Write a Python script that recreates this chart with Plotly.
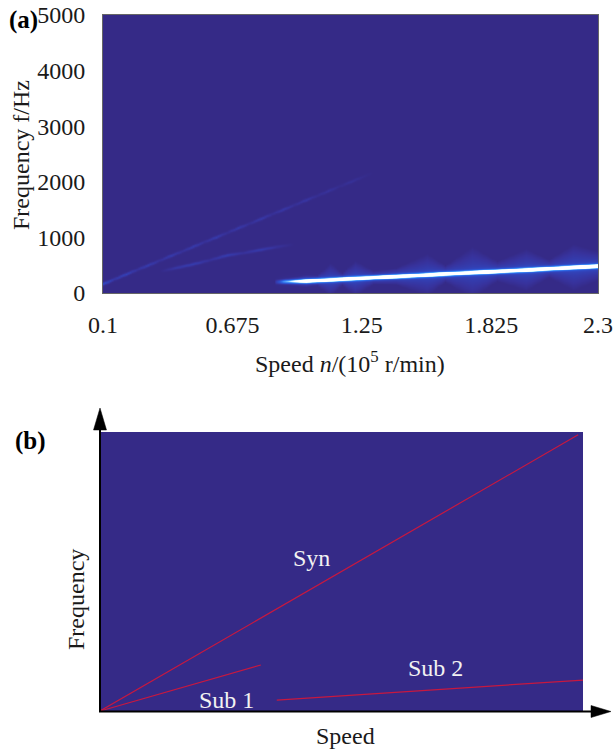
import numpy as np
import plotly.graph_objects as go

# ---------------- Panel (a): spectral ridges ----------------
# sub-synchronous (bright) ridge: speed (1e5 r/min), frequency (Hz), relative amplitude
sub_speed = [0.86, 0.90, 0.95, 1.00, 1.10, 1.20, 1.30, 1.40, 1.50, 1.60, 1.70, 1.80, 1.90, 2.00, 2.10, 2.20, 2.30]
sub_freq = [198, 205, 210, 216, 236, 258, 278, 298, 318, 340, 360, 380, 400, 420, 442, 463, 486]
sub_amp = [0.0, 0.30, 0.55, 0.95, 0.88, 0.97, 0.85, 0.97, 0.90, 1.00, 0.88, 1.00, 0.92, 1.00, 0.94, 1.00, 1.00]

# glow spread around the bright ridge (Hz)
glow_speed = [0.90, 1.00, 1.05, 1.11, 1.16, 1.22, 1.30, 1.40, 1.54, 1.62, 1.74, 1.85, 1.98, 2.08, 2.19, 2.30]
glow_width = [60, 110, 90, 300, 110, 320, 120, 150, 380, 150, 470, 180, 380, 160, 420, 260]

# synchronous (faint, streaky) ridge
syn_speed = [0.10, 0.15, 0.20, 0.25, 0.30, 0.35, 0.40, 0.45, 0.50, 0.55, 0.60, 0.65, 0.70, 0.75,
             0.80, 0.85, 0.90, 0.95, 1.00, 1.05, 1.10, 1.15, 1.20, 1.25, 1.30]
syn_freq = [165, 250, 335, 420, 500, 585, 670, 750, 835, 920, 1000, 1085, 1170, 1250,
            1335, 1420, 1500, 1585, 1670, 1750, 1835, 1920, 2000, 2085, 2170]
syn_amp = [0.20, 0.09, 0.15, 0.06, 0.12, 0.05, 0.11, 0.05, 0.11, 0.05, 0.11, 0.04, 0.10, 0.04,
           0.10, 0.04, 0.09, 0.04, 0.08, 0.03, 0.06, 0.02, 0.05, 0.02, 0.0]

# second faint ridge (lower)
half_speed = [0.35, 0.42, 0.50, 0.57, 0.65, 0.72, 0.80, 0.87, 0.95]
half_freq = [390, 450, 520, 590, 680, 720, 780, 830, 880]
half_amp = [0.0, 0.08, 0.12, 0.05, 0.12, 0.05, 0.11, 0.05, 0.0]

x_ticks = [0.1, 0.675, 1.25, 1.825, 2.3]
x_tick_text = ["0.1", "0.675", "1.25", "1.825", "2.3"]
y_ticks = [0, 1000, 2000, 3000, 4000, 5000]

# ---------------- Panel (b): schematic lines ----------------
syn_line_x = [0.0, 0.99]
syn_line_y = [0.0, 0.99]
sub1_line_x = [0.0, 0.333]
sub1_line_y = [0.0, 0.165]
sub2_line_x = [0.366, 1.0]
sub2_line_y = [0.039, 0.111]

# ---------------- build spectrum grid from ridges ----------------
grid_speed = np.round(np.arange(0.10, 2.3001, 0.01), 3)
grid_freq = np.arange(0, 5001, 5.0)
S, F = np.meshgrid(grid_speed, grid_freq)


def ridge(sp, fr, am, sigma):
    f0 = np.interp(grid_speed, sp, fr)
    a = np.interp(grid_speed, sp, am, left=0, right=0)
    return a[None, :] * np.exp(-0.5 * ((F - f0[None, :]) / sigma) ** 2), f0, a


core, f0_sub, a_sub = ridge(sub_speed, sub_freq, sub_amp, 24)
core = 1.35 * core
gw = np.interp(grid_speed, glow_speed, glow_width)
dist = np.abs(F - f0_sub[None, :])
glow = 0.18 * a_sub[None, :] * np.clip(1 - dist / gw[None, :], 0, 1) \
    + 0.25 * a_sub[None, :] * np.exp(-dist / 35)
syn_r, _, _ = ridge(syn_speed, syn_freq, syn_amp, 20)
half_r, _, _ = ridge(half_speed, half_freq, half_amp, 20)
Z = np.clip(core + glow + syn_r + half_r, 0, 1)

BG = "#352a87"
colorscale = [
    [0.0, BG], [0.06, "#37329c"], [0.18, "#3145bd"], [0.35, "#2b60e0"],
    [0.6, "#4a9cfb"], [0.82, "#c8eeff"], [1.0, "#ffffff"],
]

FONT = "Liberation Serif"
fig = go.Figure()

fig.add_trace(go.Heatmap(
    x=grid_speed, y=grid_freq, z=Z, colorscale=colorscale, zmin=0, zmax=1,
    showscale=False, zsmooth="best", xaxis="x", yaxis="y", hoverinfo="skip",
))

line_col = "#c8183f"
for xs, ys in [(syn_line_x, syn_line_y), (sub1_line_x, sub1_line_y), (sub2_line_x, sub2_line_y)]:
    fig.add_trace(go.Scatter(x=xs, y=ys, mode="lines", line=dict(color=line_col, width=1.2),
                             xaxis="x2", yaxis="y2", showlegend=False, hoverinfo="skip"))

W, H = 613, 749


def px(x):
    return x / W


def py(y):
    return 1 - y / H


tick_font = dict(family=FONT, size=24, color="#1a1a1a")
fig.update_layout(
    width=W, height=H, margin=dict(l=0, r=0, t=0, b=0, autoexpand=False),
    paper_bgcolor="white", plot_bgcolor=BG, showlegend=False,
    xaxis=dict(domain=[px(103), px(598)], range=[0.1, 2.3], tickvals=x_ticks, ticktext=x_tick_text,
               tickfont=tick_font, ticks="", showline=True, linecolor="#666", linewidth=1, mirror=True,
               showgrid=False, zeroline=False, anchor="y", ticklabelstandoff=10, automargin=False),
    yaxis=dict(domain=[py(293), py(15)], range=[0, 5000], tickvals=y_ticks, tickfont=tick_font,
               ticks="", showline=True, linecolor="#666", linewidth=1, mirror=True,
               showgrid=False, zeroline=False, anchor="x", ticklabelstandoff=12, automargin=False),
    xaxis2=dict(domain=[px(100), px(583)], range=[0, 1], visible=False, anchor="y2", automargin=False),
    yaxis2=dict(domain=[py(711), py(432)], range=[0, 1], visible=False, anchor="x2", automargin=False),
)

big = dict(family=FONT, size=24, color="#1a1a1a")
ann = []
ann.append(dict(text="<b>(a)</b>", x=px(7), y=py(20), xref="paper", yref="paper", xanchor="left",
                yanchor="middle", showarrow=False, font=dict(family=FONT, size=25, color="black")))
ann.append(dict(text="<b>(b)</b>", x=px(13), y=py(441), xref="paper", yref="paper", xanchor="left",
                yanchor="middle", showarrow=False, font=dict(family=FONT, size=25, color="black")))
ann.append(dict(text="Frequency f/Hz", x=px(21), y=py(155), xref="paper", yref="paper", textangle=-90,
                xanchor="center", yanchor="middle", showarrow=False, font=big))
ann.append(dict(text="Speed <i>n</i>/(10<sup>5</sup> r/min)", x=px(350), y=py(362), xref="paper",
                yref="paper", xanchor="center", yanchor="middle", showarrow=False, font=big))
# panel (b) texts
ann.append(dict(text="Frequency", x=px(76), y=py(600), xref="paper", yref="paper", textangle=-90,
                xanchor="center", yanchor="middle", showarrow=False, font=big))
ann.append(dict(text="Speed", x=px(345), y=py(736), xref="paper", yref="paper",
                xanchor="center", yanchor="middle", showarrow=False, font=big))
for t, x, y in [("Syn", 0.437, 0.548), ("Sub 1", 0.261, 0.04), ("Sub 2", 0.694, 0.154)]:
    ann.append(dict(text=t, x=x, y=y, xref="x2", yref="y2", xanchor="center", yanchor="middle",
                    showarrow=False, font=dict(family=FONT, size=24, color="#f2f2f2")))
fig.update_layout(annotations=ann)

# axis arrows of panel (b) as shapes
shapes = []
shapes.append(dict(type="line", xref="paper", yref="paper", x0=px(100), x1=px(100), y0=py(712), y1=py(425),
                   line=dict(color="black", width=2)))
shapes.append(dict(type="line", xref="paper", yref="paper", x0=px(99), x1=px(595), y0=py(711.5), y1=py(711.5),
                   line=dict(color="black", width=2)))
shapes.append(dict(type="path", xref="paper", yref="paper",
                   path=f"M {px(100)} {py(408)} L {px(93.5)} {py(430)} L {px(106.5)} {py(430)} Z",
                   fillcolor="black", line=dict(color="black", width=0.5)))
shapes.append(dict(type="path", xref="paper", yref="paper",
                   path=f"M {px(611)} {py(711.5)} L {px(591)} {py(705.5)} L {px(591)} {py(717.5)} Z",
                   fillcolor="black", line=dict(color="black", width=0.5)))
fig.update_layout(shapes=shapes)

fig.write_html("out.html", config={"displayModeBar": False},
               post_script="document.body.style.margin='0';document.body.style.overflow='hidden';")
